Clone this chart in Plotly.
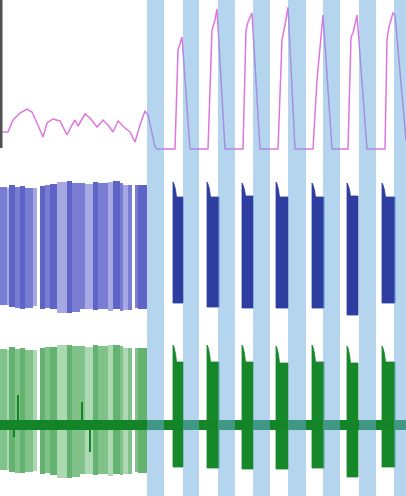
import plotly.graph_objects as go

# ---------------- data (time in arbitrary units, 0-406) ----------------
band_start = [147, 183, 218, 253, 288, 323, 359, 394]
band_end = [164, 199, 235, 270, 306, 340, 376, 411]

# magenta trace (activity, arbitrary units above baseline)
mag_t = [0, 8, 13, 20, 27, 32, 37, 43, 47, 53, 60, 67, 72, 75, 78, 85, 90, 97, 103, 108,
         113, 118, 125, 130, 135, 140, 145, 148, 155, 157,
         175, 178, 182, 190,
         208, 212, 215, 217, 225,
         243, 246, 248, 252, 260,
         278, 282, 285, 288, 295,
         313, 317, 320, 323, 332,
         348, 351, 353, 356, 357, 367,
         385, 387, 389, 393, 395, 406]
mag_v = [17, 17, 29, 36, 40, 37, 26, 12, 26, 30, 28, 14, 24, 29, 23, 35, 31, 22, 29, 24,
         17, 28, 21, 17, 7, 24, 38, 34, 2, 0,
         0, 99, 112, 0,
         0, 119, 129, 140, 0,
         0, 119, 127, 136, 0,
         0, 109, 124, 142, 0,
         0, 69, 99, 134, 0,
         0, 112, 116, 129, 134, 0,
         0, 109, 122, 136, 134, 9]

scale_bar_t = [1, 1]
scale_bar_v = [1, 150]

# rhythmic bursts
burst_start = [173, 207, 242, 276, 312, 347, 382]
burst_end = [183, 219, 253, 288, 324, 358, 395]
blue_onset_top = [63, 63, 62, 63, 62, 62, 62]
blue_body_top = [48, 48, 49, 48, 48, 49, 48]
blue_bottom = [-58, -62, -63, -63, -63, -70, -58]
green_onset_top = [80, 80, 80, 79, 80, 79, 79]
green_body_top = [63, 63, 63, 62, 63, 62, 63]
green_bottom = [-42, -43, -44, -44, -43, -52, -42]

# irregular spiking before the rhythm (stripes)
stripe_start = [0, 7, 8.5, 15, 20, 25, 33, 40, 45, 50, 57, 67, 72, 80, 85, 93, 98, 108, 113, 120, 123, 128, 135, 138]
stripe_end = [7, 8.5, 15, 20, 25, 33, 37, 45, 50, 57, 67, 72, 80, 85, 93, 98, 108, 113, 120, 123, 128, 132, 138, 147]
stripe_shade = ['M', 'L', 'D', 'M', 'D', 'M', 'L', 'D', 'M', 'D', 'L', 'D', 'M', 'M', 'L', 'D', 'M', 'L', 'D', 'M', 'L', 'M', 'M', 'D']
blue_stripe_top = [58, 57, 60, 58, 59, 57, 57, 59, 60, 61, 63, 64, 62, 62, 61, 63, 62, 63, 64, 62, 60, 60, 60, 60]
blue_stripe_bottom = [-60, -60, -62, -63, -64, -63, -61, -64, -63, -64, -68, -68, -67, -64, -64, -65, -64, -66, -64, -66, -65, -65, -63, -64]
green_stripe_top = [76, 75, 78, 76, 77, 75, 75, 77, 78, 78, 80, 80, 79, 79, 78, 80, 79, 80, 80, 79, 77, 77, 77, 77]
green_stripe_bottom = [-45, -45, -47, -48, -48, -47, -46, -49, -48, -50, -53, -53, -52, -49, -49, -50, -49, -51, -49, -50, -49, -49, -47, -48]

green_spike_t = [14, 18, 82, 90]
green_spike_v = [-12, 30, 23, -27]

baseline_t = [0, 406]
baseline_v = [0, 0]

# ---------------- styling ----------------
W, H = 406, 496
blue_shades = {'L': 'rgb(165,168,226)', 'M': 'rgb(120,124,210)', 'D': 'rgb(94,100,198)'}
green_shades = {'L': 'rgb(172,216,178)', 'M': 'rgb(128,194,138)', 'D': 'rgb(100,178,112)'}


def burst_polygon(starts, ends, onset, body, bottom):
    xs, ys = [], []
    for s, e, o, b, lo in zip(starts, ends, onset, body, bottom):
        xs += [s, s, s + 1, s + 2.5, s + 3.5, e, e, s, None]
        ys += [lo, o, o - 2, (o + b) / 2, b, b, lo, lo, None]
    return xs, ys


fig = go.Figure()

# stripes (bars)
centers = [(s + e) / 2 for s, e in zip(stripe_start, stripe_end)]
widths = [e - s for s, e in zip(stripe_start, stripe_end)]
fig.add_trace(go.Bar(
    x=centers, width=widths, base=blue_stripe_bottom,
    y=[t - b for t, b in zip(blue_stripe_top, blue_stripe_bottom)],
    marker=dict(color=[blue_shades[s] for s in stripe_shade], line=dict(width=0)),
    yaxis='y2', hoverinfo='skip', showlegend=False))
fig.add_trace(go.Bar(
    x=centers, width=widths, base=green_stripe_bottom,
    y=[t - b for t, b in zip(green_stripe_top, green_stripe_bottom)],
    marker=dict(color=[green_shades[s] for s in stripe_shade], line=dict(width=0)),
    yaxis='y', hoverinfo='skip', showlegend=False))

# bursts
bx, by = burst_polygon(burst_start, burst_end, blue_onset_top, blue_body_top, blue_bottom)
fig.add_trace(go.Scatter(x=bx, y=by, mode='lines', fill='toself', fillcolor='rgb(46,62,160)',
                         line=dict(color='rgb(46,62,160)', width=0.8), yaxis='y2',
                         hoverinfo='skip', showlegend=False))
gx, gy = burst_polygon(burst_start, burst_end, green_onset_top, green_body_top, green_bottom)
fig.add_trace(go.Scatter(x=gx, y=gy, mode='lines', fill='toself', fillcolor='rgb(22,136,42)',
                         line=dict(color='rgb(22,136,42)', width=0.8), yaxis='y',
                         hoverinfo='skip', showlegend=False))

# green baseline and isolated spikes
fig.add_trace(go.Scatter(x=baseline_t, y=baseline_v, mode='lines',
                         line=dict(color='rgb(20,132,40)', width=10), yaxis='y',
                         hoverinfo='skip', showlegend=False))
sx, sy = [], []
for t, v in zip(green_spike_t, green_spike_v):
    sx += [t, t, None]
    sy += [0, v, None]
fig.add_trace(go.Scatter(x=sx, y=sy, mode='lines', line=dict(color='rgb(20,132,40)', width=2),
                         yaxis='y', hoverinfo='skip', showlegend=False))

# magenta trace + scale bar
fig.add_trace(go.Scatter(x=mag_t, y=mag_v, mode='lines',
                         line=dict(color='rgb(222,118,222)', width=1.5), yaxis='y3',
                         hoverinfo='skip', showlegend=False))
fig.add_trace(go.Scatter(x=scale_bar_t, y=scale_bar_v, mode='lines',
                         line=dict(color='rgb(80,80,80)', width=3), yaxis='y3',
                         hoverinfo='skip', showlegend=False))

# light-blue bands (on top, translucent)
for s, e in zip(band_start, band_end):
    fig.add_shape(type='rect', xref='x', yref='paper', x0=s, x1=e, y0=0, y1=1,
                  fillcolor='rgba(108,170,222,0.5)', line=dict(width=0), layer='above')

hidden = dict(visible=False, showgrid=False, zeroline=False, fixedrange=True)
fig.update_layout(
    width=W, height=H,
    margin=dict(l=0, r=0, t=0, b=0),
    paper_bgcolor='white', plot_bgcolor='white',
    barmode='overlay', bargap=0,
    showlegend=False,
    xaxis=dict(range=[0, 406], **hidden),
    yaxis=dict(domain=[0, 1 - 330 / 496], range=[-71, 95], **hidden),
    yaxis2=dict(domain=[1 - 320 / 496, 1 - 165 / 496], range=[-75, 80], **hidden),
    yaxis3=dict(domain=[1 - 152 / 496, 1], range=[-3, 149], **hidden),
)

fig.write_html(
    "out.html",
    config={"displayModeBar": False},
    post_script="document.body.style.margin='0';document.body.style.overflow='hidden';",
)
